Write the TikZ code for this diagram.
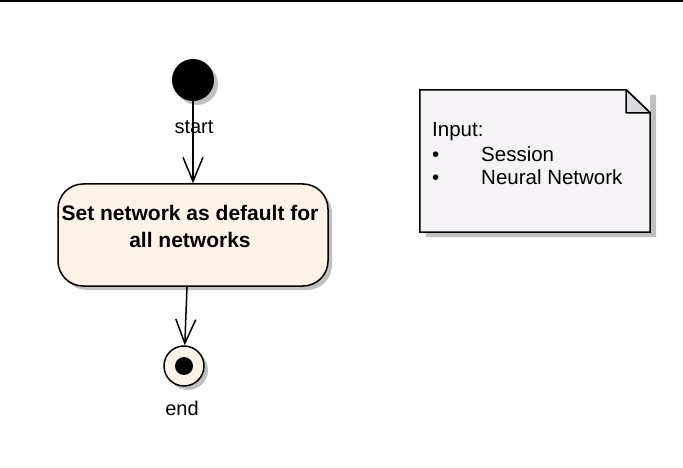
\documentclass[tikz,border=0pt]{standalone}
\usepackage{fontspec}
\setmainfont{Liberation Sans}
\usetikzlibrary{arrows.meta,shadows,positioning}
\definecolor{actionbg}{RGB}{253,243,230}
\definecolor{notebg}{RGB}{246,243,247}
\definecolor{foldbg}{RGB}{220,217,225}
\definecolor{shadowgray}{RGB}{192,192,192}
\tikzset{
  umlshadow/.style={drop shadow={shadow xshift=4pt,shadow yshift=-4pt,fill=shadowgray,opacity=1}},
  initial/.style={circle,fill=black,minimum size=42pt,inner sep=0pt,umlshadow},
  final/.style={circle,draw,line width=1.5pt,fill=actionbg,minimum size=40pt,inner sep=0pt,umlshadow},
  finaldot/.style={circle,fill=black,minimum size=18pt,inner sep=0pt},
  action/.style={rounded corners=25pt,draw,line width=1.5pt,fill=actionbg,
    minimum width=270pt,minimum height=102pt,inner sep=0pt,umlshadow},
  actiontext/.style={font=\bfseries\fontsize{21}{27}\selectfont,align=center,inner sep=0pt},
  notebox/.style={minimum width=230pt,minimum height=142pt,inner sep=0pt},
  notetext/.style={font=\fontsize{20.5}{24}\selectfont,align=left,inner sep=0pt,anchor=base west},
  statename/.style={font=\fontsize{20}{24}\selectfont,inner sep=0pt,anchor=base},
  flow/.style={line width=1.5pt,-{Straight Barb[length=24pt,width=20pt,line width=1.5pt]}}
}
\begin{document}
\begin{tikzpicture}[x=1pt,y=-1pt]
\useasboundingbox (0,0) rectangle (683,468);
\draw[line width=2pt] (0,1) -- (683,1);

% states
\node[initial] (start) at (193,80) {};
\node[statename] (startlabel) at (194,134) {start};
\node[action] (act) at (193,235) {};
\node[actiontext] (acttext) at ([xshift=-3pt,yshift=9pt]act.center) {Set network as default for\\all networks};
\node[final] (end) at (184,366) {};
\node[finaldot] (enddot) at (end.center) {};
\node[statename] (endlabel) at (182,415) {end};

% flows
\draw[flow] (start) -- (act);
\draw[flow] ([xshift=-6pt]act.south) -- (end);

% note
\node[notebox] (note) at (535,161) {};
\fill[shadowgray] ([xshift=6pt,yshift=-5pt]note.north east) -- ([xshift=6pt,yshift=-5pt]note.south east)
  -- ([xshift=6pt,yshift=-5pt]note.south west) -- ([xshift=6pt]note.south west) -- (note.south east)
  -- ([yshift=-5pt]note.north east) -- cycle;
\filldraw[fill=notebg,line width=1.5pt] (note.north west) -- ([xshift=-24pt]note.north east)
  -- ([yshift=-23pt]note.north east) -- (note.south east) -- (note.south west) -- cycle;
\filldraw[fill=foldbg,line width=1.5pt,line join=round] ([xshift=-24pt]note.north east)
  -- ([xshift=-24pt,yshift=-23pt]note.north east) -- ([yshift=-23pt]note.north east) -- cycle;
\node[notetext] (notelines) at (432,185) {Input:\\
  \makebox[49pt][l]{\textbullet}Session\\
  \makebox[49pt][l]{\textbullet}Neural Network};
\end{tikzpicture}
\end{document}
